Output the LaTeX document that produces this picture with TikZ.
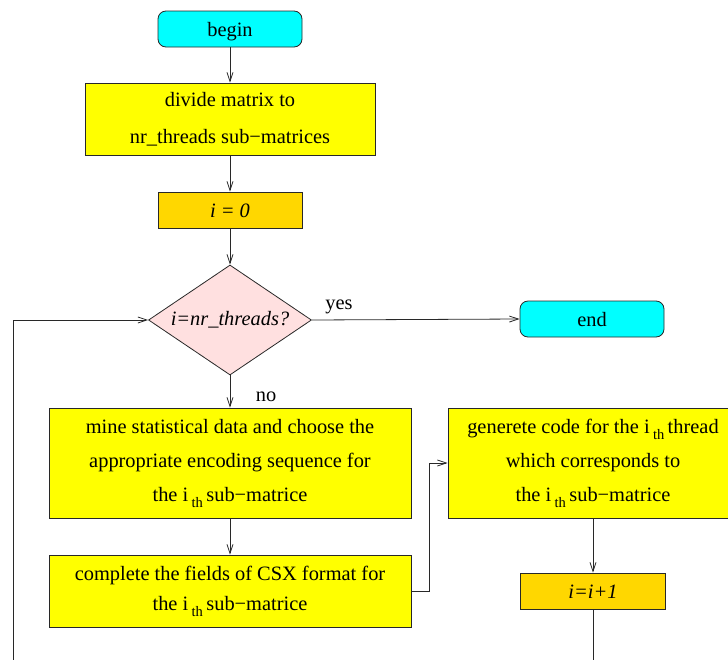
\documentclass[tikz,border=0pt]{standalone}
\usepackage{fontspec}
\setmainfont{Liberation Serif}
\usetikzlibrary{shapes.geometric,arrows.meta}
\definecolor{termcyan}{RGB}{0,255,255}
\definecolor{stepyellow}{RGB}{255,255,0}
\definecolor{countgold}{RGB}{255,215,0}
\definecolor{testpink}{RGB}{255,224,224}
\definecolor{linegray}{RGB}{40,40,40}
% lowered "th" index after i
\newcommand\thidx{\,\raisebox{-6pt}{\fontsize{14.5}{14.5}\selectfont th}\,}

\begin{document}
\begin{tikzpicture}[x=1pt,y=-1pt,
  every node/.style={font=\fontsize{20.4}{34}\selectfont, inner sep=0pt, align=center, line width=0.8pt},
  oneline/.style={text height=16pt, text depth=2pt},
  terminal/.style={oneline, draw=linegray, fill=termcyan, rounded corners=8pt, minimum width=144pt, minimum height=36pt},
  stepbox/.style={draw=linegray, fill=stepyellow},
  counter/.style={oneline, draw=linegray, fill=countgold, minimum width=144pt, minimum height=36pt},
  test/.style={draw=linegray, fill=testpink, diamond, aspect=1.48, minimum width=163pt, minimum height=110pt},
  flow/.style={draw=linegray, line width=0.8pt, -{Straight Barb[length=9pt,width=6pt]}},
  link/.style={draw=linegray, line width=0.8pt}
]
\useasboundingbox (0,0) rectangle (728,659);
\clip (0,0) rectangle (728,659);

% main column
\node[terminal] (begin) at (230,29) {begin};
\node[stepbox, minimum width=290pt, minimum height=72pt,
      font=\fontsize{20.4}{37}\selectfont] (divide) at (230,119)
  {divide matrix to\\nr\_threads sub−matrices};
\node[counter] (init) at (230,210) {\itshape i = 0};
\node[test] (check) at (230,320) {\itshape i=nr\_threads?};
\node[terminal] (end) at (592,319) {end};
\node[stepbox, minimum width=362pt, minimum height=110pt] (mine) at (230,463)
  {mine statistical data and choose the\\appropriate encoding sequence for\\the i\thidx sub−matrice};
\node[stepbox, minimum width=362pt, minimum height=72pt,
      font=\fontsize{20.4}{30}\selectfont] (fields) at (230,591)
  {complete the fields of CSX format for\\the i\thidx sub−matrice};

% right column
\node[stepbox, minimum width=290pt, minimum height=110pt] (gen) at (593,463)
  {generete code for the i\thidx thread\\which corresponds to\\the i\thidx sub−matrice};
\node[counter, minimum width=145pt] (incr) at (593,591) {\itshape i=i+1};

% branch labels
\node[oneline] (yes) at (339,302) {yes};
\node[oneline] (no) at (266,394) {no};

% loop ends leaving the lower edge
\coordinate (loopR) at (593,665);
\coordinate (loopL) at (13,665);

% connectors
\draw[flow] (begin) -- (divide);
\draw[flow] (divide) -- (init);
\draw[flow] (init) -- (check);
\draw[flow] (check.east) -- (end.west);
\draw[flow] (check.south) -- (mine.north);
\draw[flow] (mine) -- (fields);
\draw[flow] (fields.east) -- ++(18,0) |- (gen.west);
\draw[flow] (gen) -- (incr);
\draw[link] (incr.south) -- (loopR);
\draw[flow] (loopL) |- (check.west);
\end{tikzpicture}
\end{document}
